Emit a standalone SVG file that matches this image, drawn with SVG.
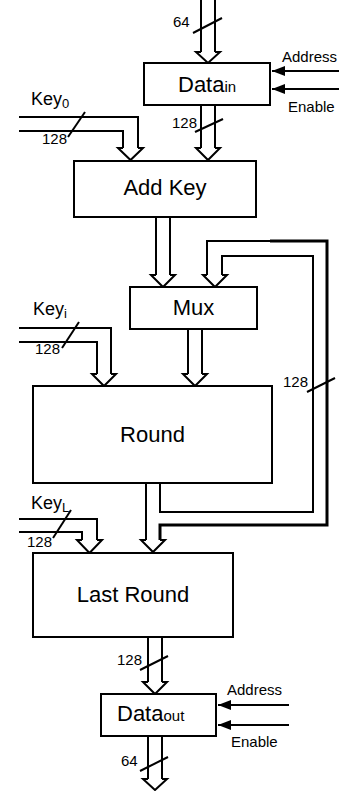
<svg xmlns="http://www.w3.org/2000/svg" width="339" height="791" viewBox="0 0 339 791">
<defs>
<style>
.box{fill:#fff;stroke:#000;stroke-width:2}
.ln{fill:none;stroke:#000;stroke-width:2}
.thk{fill:none;stroke:#000;stroke-width:3}
.ah{fill:#fff;stroke:#000;stroke-width:2;stroke-linejoin:miter}
.big{font-family:"Liberation Sans",Arial,sans-serif;font-size:22px;fill:#000}
.sub{font-family:"Liberation Sans",Arial,sans-serif;font-size:15px;fill:#000}
.sm{font-family:"Liberation Sans",Arial,sans-serif;font-size:15px;fill:#000}
.key{font-family:"Liberation Sans",Arial,sans-serif;font-size:18px;fill:#000}
.ks{font-family:"Liberation Sans",Arial,sans-serif;font-size:13px;fill:#000}
</style>
<marker id="tri" viewBox="0 0 13 10" refX="13" refY="5" markerWidth="13" markerHeight="10" orient="auto" markerUnits="userSpaceOnUse">
<path d="M0,0 L13,5 L0,10 z" fill="#000"/>
</marker>
</defs>
<rect width="339" height="791" fill="#fff"/>

<g id="connectors">
<!-- top input bus 64 -->
<path class="ln" d="M201,0 V52 M215,0 V52"/>
<path class="ah" d="M201,52 H196 L208,63 L220,52 H215"/>
<line class="ln" x1="193" y1="33" x2="222" y2="18"/>
<text class="sm" x="173" y="27">64</text>

<!-- Address / Enable to Data_in -->
<line class="ln" x1="339" y1="71" x2="272" y2="71" marker-end="url(#tri)"/>
<line class="ln" x1="339" y1="89" x2="272" y2="89" marker-end="url(#tri)"/>
<text class="sm" x="282" y="62">Address</text>
<text class="sm" x="288" y="112">Enable</text>

<!-- Data_in to Add Key -->
<path class="ln" d="M201,105 V148 M215,105 V148"/>
<path class="ah" d="M201,148 H196 L208,160 L220,148 H215"/>
<line class="ln" x1="195" y1="132" x2="223" y2="119"/>
<text class="sm" x="172" y="128">128</text>

<!-- Key0 -->
<path class="ln" d="M19,117 H138 V148 M19,131 H123 V148"/>
<path class="ah" d="M123,148 H118 L130.5,160 L143,148 H138"/>
<line class="ln" x1="68" y1="137" x2="85" y2="112"/>
<text class="key" x="31" y="105">Key<tspan class="ks" dy="3">0</tspan></text>
<text class="sm" x="42" y="144">128</text>

<!-- Add Key to Mux -->
<path class="ln" d="M156,217 V275 M170,217 V275"/>
<path class="ah" d="M156,275 H151 L163,287 L175,275 H170"/>

<!-- Feedback paths -->
<path class="ln" d="M160,483 V512 H313 V256 H222 V275"/>
<path class="ln" d="M270,241 H207 V275"/>
<path class="thk" d="M160,540 V525 H327 V241 H270"/>
<path class="ah" d="M207,275 H203 L215,287 L227,275 H222"/>
<line class="ln" x1="307" y1="392" x2="335" y2="378"/>
<text class="sm" x="283" y="387">128</text>

<!-- Mux to Round -->
<path class="ln" d="M188,329 V374 M202,329 V374"/>
<path class="ah" d="M188,374 H183 L195,386 L207,374 H202"/>

<!-- Keyi -->
<path class="ln" d="M19,328 H111 V374 M19,342 H97 V374"/>
<path class="ah" d="M97,374 H92 L104,386 L116,374 H111"/>
<line class="ln" x1="62" y1="348" x2="79" y2="322"/>
<text class="key" x="33" y="315">Key<tspan class="ks" dy="3">i</tspan></text>
<text class="sm" x="35" y="354">128</text>

<!-- Round to Last Round -->
<path class="ln" d="M146,483 V540"/>
<path class="ah" d="M146,540 H141 L153,552 L165,540 H160"/>

<!-- KeyL -->
<path class="ln" d="M19,519 H97 V540 M19,532 H82 V540"/>
<path class="ah" d="M82,540 H77 L89.5,553 L102,540 H97"/>
<line class="ln" x1="53" y1="538" x2="71" y2="510"/>
<text class="key" x="31" y="509">Key<tspan class="ks" dy="3">L</tspan></text>
<text class="sm" x="27" y="547">128</text>

<!-- Last Round to Data_out -->
<path class="ln" d="M148,637 V682 M162,637 V682"/>
<path class="ah" d="M148,682 H143 L155,694 L167,682 H162"/>
<line class="ln" x1="140" y1="670" x2="168" y2="656"/>
<text class="sm" x="117" y="665">128</text>

<!-- Address / Enable to Data_out -->
<line class="ln" x1="289" y1="705" x2="218" y2="705" marker-end="url(#tri)"/>
<line class="ln" x1="289" y1="725" x2="218" y2="725" marker-end="url(#tri)"/>
<text class="sm" x="227" y="695">Address</text>
<text class="sm" x="231" y="747">Enable</text>

<!-- Output bus 64 -->
<path class="ln" d="M148,736 V779 M162,736 V779"/>
<path class="ah" d="M148,779 H143 L155,790 L167,779 H162"/>
<line class="ln" x1="140" y1="771" x2="168" y2="757"/>
<text class="sm" x="121" y="766">64</text>
</g>

<g id="data_in">
<rect class="box" x="144" y="63" width="126" height="42"/>
<text class="big" x="178" y="92">Data<tspan class="sub">in</tspan></text>
</g>
<g id="add_key">
<rect class="box" x="74" y="161" width="182" height="56"/>
<text class="big" x="165" y="195" text-anchor="middle">Add Key</text>
</g>
<g id="mux">
<rect class="box" x="130" y="287" width="127" height="42"/>
<text class="big" x="193.5" y="315" text-anchor="middle">Mux</text>
</g>
<g id="round">
<rect class="box" x="33" y="386" width="239" height="97"/>
<text class="big" x="152.5" y="442" text-anchor="middle">Round</text>
</g>
<g id="last_round">
<rect class="box" x="33" y="553" width="200" height="84"/>
<text class="big" x="133" y="602" text-anchor="middle">Last Round</text>
</g>
<g id="data_out">
<rect class="box" x="101" y="694" width="115" height="42"/>
<text class="big" x="117" y="721">Data<tspan class="sub">out</tspan></text>
</g>
</svg>
